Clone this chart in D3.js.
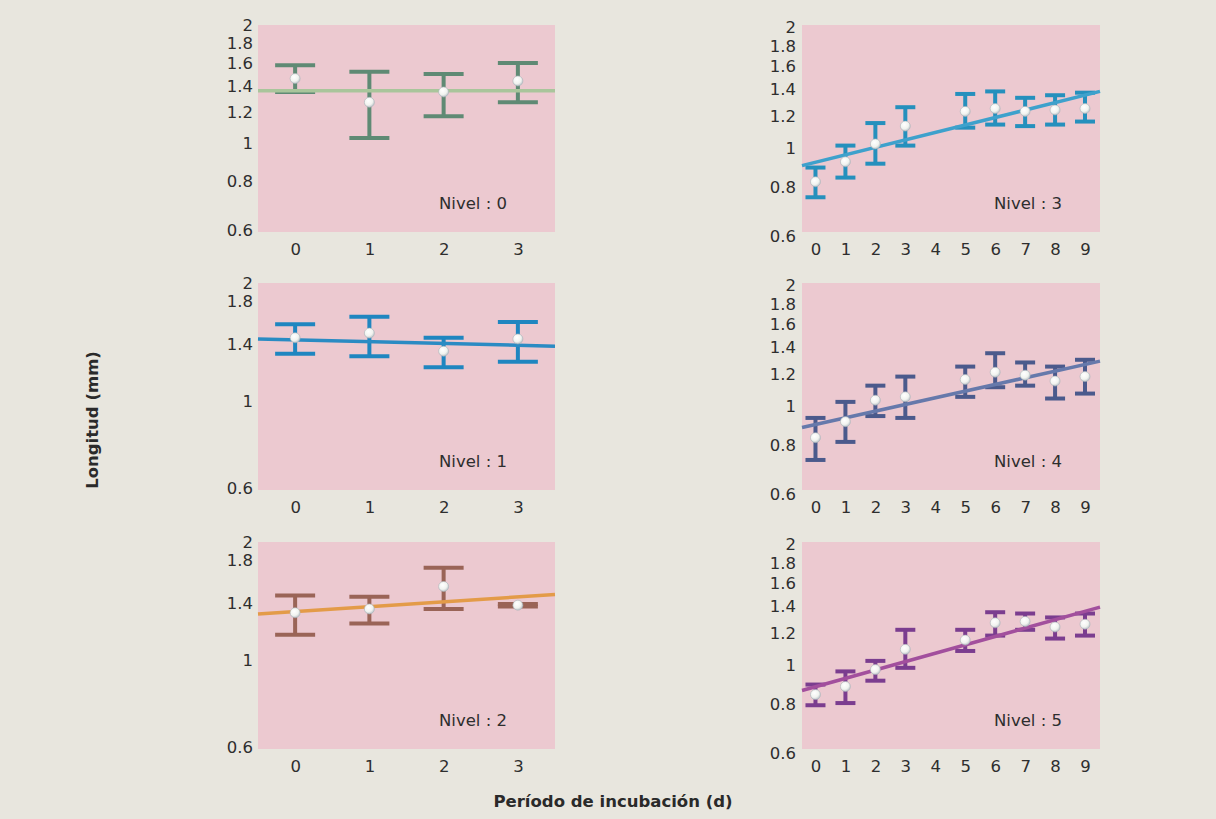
<!DOCTYPE html>
<html><head><meta charset="utf-8">
<script src="https://cdn.jsdelivr.net/npm/d3@7"></script>
<style>body{margin:0;background:#e8e6de} svg{display:block}</style>
</head><body><svg id="c" width="1216" height="819"></svg>
<script>
// ---- data ----
const levelLabels = ["Nivel : 0", "Nivel : 1", "Nivel : 2", "Nivel : 3", "Nivel : 4", "Nivel : 5"];
const daysShort = [0, 1, 2, 3];
const daysLong = [0, 1, 2, 3, 5, 6, 7, 8, 9];
const xTicksShort = [0, 1, 2, 3];
const xTicksLong = [0, 1, 2, 3, 4, 5, 6, 7, 8, 9];
const yTicksFull = [2, 1.8, 1.6, 1.4, 1.2, 1, 0.8, 0.6];
const yTicksSparse = [2, 1.8, 1.4, 1, 0.6];

const mean0 = [1.46, 1.27, 1.35, 1.44];
const upper0 = [1.58, 1.52, 1.50, 1.60];
const lower0 = [1.35, 1.03, 1.17, 1.27];
const fit0 = [1.36, 1.36];

const mean1 = [1.45, 1.49, 1.34, 1.44];
const upper1 = [1.57, 1.64, 1.45, 1.59];
const lower1 = [1.32, 1.30, 1.22, 1.26];
const fit1 = [1.44, 1.38];

const mean2 = [1.32, 1.35, 1.54, 1.38];
const upper2 = [1.46, 1.45, 1.72, 1.39];
const lower2 = [1.16, 1.24, 1.35, 1.37];
const fit2 = [1.31, 1.47];

const mean3 = [0.82, 0.92, 1.02, 1.13, 1.23, 1.25, 1.23, 1.24, 1.25];
const upper3 = [0.89, 1.01, 1.15, 1.26, 1.36, 1.38, 1.33, 1.35, 1.37];
const lower3 = [0.75, 0.84, 0.91, 1.01, 1.12, 1.14, 1.13, 1.14, 1.16];
const fit3 = [0.90, 1.38];

const mean4 = [0.83, 0.91, 1.03, 1.05, 1.16, 1.21, 1.19, 1.15, 1.18];
const upper4 = [0.93, 1.02, 1.12, 1.18, 1.25, 1.35, 1.28, 1.25, 1.30];
const lower4 = [0.73, 0.81, 0.94, 0.93, 1.05, 1.11, 1.12, 1.04, 1.07];
const fit4 = [0.88, 1.29];

const mean5 = [0.84, 0.88, 0.97, 1.09, 1.15, 1.27, 1.28, 1.24, 1.26];
const upper5 = [0.89, 0.96, 1.02, 1.22, 1.22, 1.35, 1.34, 1.31, 1.34];
const lower5 = [0.79, 0.80, 0.91, 0.98, 1.08, 1.18, 1.22, 1.16, 1.18];
const fit5 = [0.86, 1.39];

const barColors = ["#5f8a74", "#1f86c0", "#9a6457", "#2590bd", "#4b5a8c", "#7b3d8f"];
const lineColors = ["#a9c59b", "#2a8bc3", "#e39b48", "#3ea1cc", "#6679ab", "#a24f9d"];

// ---- layout ----
const rowTops = [25, 283, 542];
const panels = [
  {label: levelLabels[0], x: daysShort, m: mean0, u: upper0, l: lower0, fit: fit0, col: 0, row: 0, yt: yTicksFull},
  {label: levelLabels[1], x: daysShort, m: mean1, u: upper1, l: lower1, fit: fit1, col: 0, row: 1, yt: yTicksSparse},
  {label: levelLabels[2], x: daysShort, m: mean2, u: upper2, l: lower2, fit: fit2, col: 0, row: 2, yt: yTicksSparse},
  {label: levelLabels[3], x: daysLong, m: mean3, u: upper3, l: lower3, fit: fit3, col: 1, row: 0, yt: yTicksFull},
  {label: levelLabels[4], x: daysLong, m: mean4, u: upper4, l: lower4, fit: fit4, col: 1, row: 1, yt: yTicksFull},
  {label: levelLabels[5], x: daysLong, m: mean5, u: upper5, l: lower5, fit: fit5, col: 1, row: 2, yt: yTicksFull}
];

const svg = d3.select("#c");
svg.append("rect").attr("width", 1216).attr("height", 819).attr("fill", "#e8e6de");

const defs = svg.append("defs");
const grad = defs.append("radialGradient").attr("id", "pt").attr("cx", "40%").attr("cy", "35%").attr("r", "65%");
grad.append("stop").attr("offset", "0%").attr("stop-color", "#ffffff");
grad.append("stop").attr("offset", "65%").attr("stop-color", "#f1f3ef");
grad.append("stop").attr("offset", "100%").attr("stop-color", "#bfc7cc");

const FONT = "'DejaVu Sans', 'Liberation Sans', Arial, sans-serif";

panels.forEach((p, i) => {
  const top = rowTops[p.row];
  const left = p.col === 0;
  const x0 = left ? 258 : 802, x1 = left ? 555 : 1100;
  const xDom = left ? [-0.5, 3.5] : [-0.45, 9.5];
  const x = d3.scaleLinear().domain(xDom).range([x0, x1]);
  const y = d3.scaleLog().domain([0.6, 2]).range(left ? [top + 205, top] : [top + 211, top + 2]);
  const g = svg.append("g");

  g.append("rect").attr("x", x0).attr("y", top).attr("width", x1 - x0).attr("height", 207).attr("fill", "#ecc9d0");

  // y axis
  const ya = g.append("g").attr("transform", `translate(${left ? 253 : 796},0)`)
    .call(d3.axisLeft(y).tickValues(p.yt).tickSize(0).tickPadding(0).tickFormat(d3.format("~g")));
  ya.select(".domain").remove();
  ya.selectAll("text").attr("font-family", FONT).attr("font-size", 16.5).attr("fill", "#2e2e2e").attr("dy", "0.36em");

  // x axis
  const xa = g.append("g").attr("transform", `translate(0,${top + 207})`)
    .call(d3.axisBottom(x).tickValues(left ? xTicksShort : xTicksLong).tickSize(0).tickPadding(11).tickFormat(d3.format("d")));
  xa.select(".domain").remove();
  xa.selectAll("text").attr("font-family", FONT).attr("font-size", 16.5).attr("fill", "#2e2e2e");

  const data = p.x.map((d, k) => ({d, m: p.m[k], u: p.u[k], l: p.l[k]}));
  const cap = left ? 20 : 10;
  const col = barColors[i];
  const eb = g.append("g").attr("stroke", col).attr("stroke-width", 4).attr("fill", "none");
  eb.selectAll(".stem").data(data).join("line")
    .attr("x1", d => x(d.d)).attr("x2", d => x(d.d)).attr("y1", d => y(d.u)).attr("y2", d => y(d.l));
  eb.selectAll(".capU").data(data).join("line")
    .attr("x1", d => x(d.d) - cap).attr("x2", d => x(d.d) + cap).attr("y1", d => y(d.u)).attr("y2", d => y(d.u));
  eb.selectAll(".capL").data(data).join("line")
    .attr("x1", d => x(d.d) - cap).attr("x2", d => x(d.d) + cap).attr("y1", d => y(d.l)).attr("y2", d => y(d.l));

  // fit line
  g.append("line").attr("x1", x(xDom[0])).attr("x2", x(xDom[1]))
    .attr("y1", y(p.fit[0])).attr("y2", y(p.fit[1]))
    .attr("stroke", lineColors[i]).attr("stroke-width", 3.5);

  // points
  g.selectAll(".pt").data(data).join("circle")
    .attr("cx", d => x(d.d)).attr("cy", d => y(d.m)).attr("r", 5)
    .attr("fill", "url(#pt)").attr("stroke", "#aab3b8").attr("stroke-width", 0.6);

  // level label
  g.append("text").attr("x", left ? 473 : 1028).attr("y", top + 179)
    .attr("text-anchor", "middle").attr("dominant-baseline", "middle")
    .attr("font-family", FONT).attr("font-size", 16.5).attr("fill", "#2e2e2e").text(p.label);
});

svg.append("text").attr("transform", "translate(93,420) rotate(-90)")
  .attr("text-anchor", "middle").attr("dominant-baseline", "middle")
  .attr("font-family", FONT).attr("font-weight", "bold").attr("font-size", 16.5).attr("fill", "#2a2a2a")
  .text("Longitud (mm)");
svg.append("text").attr("x", 613).attr("y", 802)
  .attr("text-anchor", "middle").attr("dominant-baseline", "middle")
  .attr("font-family", FONT).attr("font-weight", "bold").attr("font-size", 16.5).attr("fill", "#2a2a2a")
  .text("Período de incubación (d)");
</script></body></html>
